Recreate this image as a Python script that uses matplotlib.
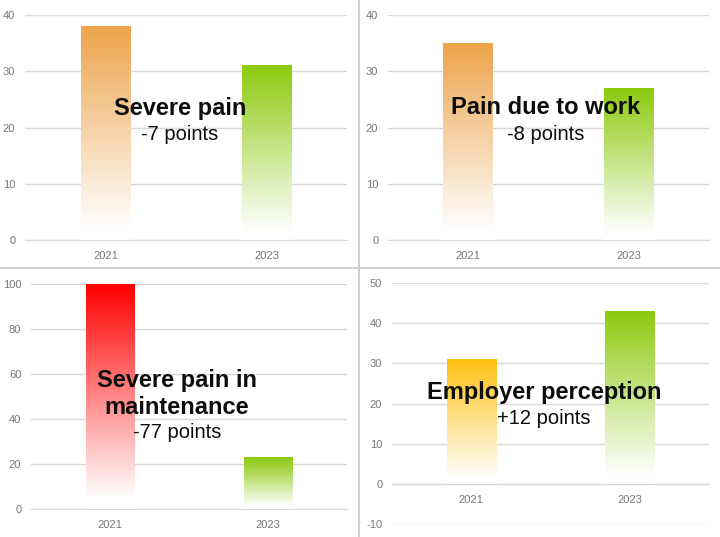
import numpy as np
import matplotlib
matplotlib.use("Agg")
import matplotlib.pyplot as plt
from matplotlib.colors import to_rgb

plt.rcParams["axes.unicode_minus"] = False

# ---- data ----
years = ["2021", "2023"]
severe_pain = [38, 31]
pain_work = [35, 27]
severe_maint = [100, 23]
employer = [31, 43]

titles = ["Severe pain", "Pain due to work", "Severe pain in\nmaintenance", "Employer perception"]
subtitles = ["-7 points", "-8 points", "-77 points", "+12 points"]

ylims = [(0, 40), (0, 40), (0, 100), (-10, 50)]
yticks = [np.arange(0, 41, 10), np.arange(0, 41, 10), np.arange(0, 101, 20), np.arange(-10, 51, 10)]

orange = "#EDA44C"
green = "#8CCA0E"
red = "#FF0000"
amber = "#FFC010"
bar_colors = [[orange, green], [orange, green], [red, green], [amber, green]]

W, H = 720, 537
fig = plt.figure(figsize=(W / 100, H / 100), dpi=100)

# axes rectangles in pixels: (left, right, top_val_px, bottom_val_px)
rects = [(25, 347, 15, 240), (388, 709, 15, 240), (31, 347, 284, 509), (392, 709, 283, 524)]

text_pos = [  # x_px, title_y_px, sub_y_px
    (180, 108, 135),
    (546, 108, 135),
    (177, 394, 432),
    (544, 393, 419),
]

grid_col = "#D9D9D9"
tick_col = "#767676"


def gradient_img(color, n=256):
    c = np.array(to_rgb(color))
    t = np.linspace(0, 1, n)
    f = np.clip((t - 0.05) / 0.95, 0, 1)
    img = np.ones((n, 1, 3)) * (1 - f)[:, None, None] + c[None, None, :] * f[:, None, None]
    return img


datasets = [severe_pain, pain_work, severe_maint, employer]
for i, data in enumerate(datasets):
    l, r, t, b = rects[i]
    ax = fig.add_axes([l / W, 1 - b / H, (r - l) / W, (b - t) / H])
    x = np.arange(len(years))
    bars = ax.bar(x, data, width=0.31, color="none", zorder=3)
    for bar, col in zip(bars, bar_colors[i]):
        x0 = bar.get_x()
        w = bar.get_width()
        h = bar.get_height()
        ax.imshow(gradient_img(col), extent=[x0, x0 + w, 0, h], origin="lower",
                  aspect="auto", zorder=3, interpolation="bilinear")
    ax.set_xlim(-0.5, 1.5)
    ax.set_ylim(*ylims[i])
    ax.set_yticks(yticks[i])
    ax.set_xticks(x)
    ax.set_xticklabels(years)
    ax.grid(axis="y", color=grid_col, linewidth=1.0, zorder=0)
    ax.set_axisbelow(True)
    for s in ["top", "right", "left"]:
        ax.spines[s].set_visible(False)
    ax.spines["bottom"].set_position(("data", 0))
    ax.spines["bottom"].set_color(grid_col)
    ax.spines["bottom"].set_zorder(1)
    ax.tick_params(axis="both", length=0, labelsize=8, colors=tick_col)
    ax.tick_params(axis="y", pad=7)
    ax.tick_params(axis="x", pad=8)
    for lab in ax.get_xticklabels() + ax.get_yticklabels():
        lab.set_family("Liberation Sans")
    ax.patch.set_alpha(0)

    xp, ty, sy = text_pos[i]
    fig.text(xp / W, 1 - ty / H, titles[i], ha="center", va="center",
             fontsize=17, fontweight="bold", family="Liberation Sans",
             color="#0D0D0D", linespacing=1.2, zorder=10)
    fig.text(xp / W, 1 - sy / H, subtitles[i], ha="center", va="center",
             fontsize=14.5, family="Liberation Sans", color="#0D0D0D", zorder=10)

# panel dividers
fig.add_artist(plt.Line2D([359 / W, 359 / W], [0, 1], color="#D0D0D0", linewidth=1.5))
fig.add_artist(plt.Line2D([0, 1], [1 - 268 / H, 1 - 268 / H], color="#D0D0D0", linewidth=1.5))

fig.savefig("out.png", dpi=100)
